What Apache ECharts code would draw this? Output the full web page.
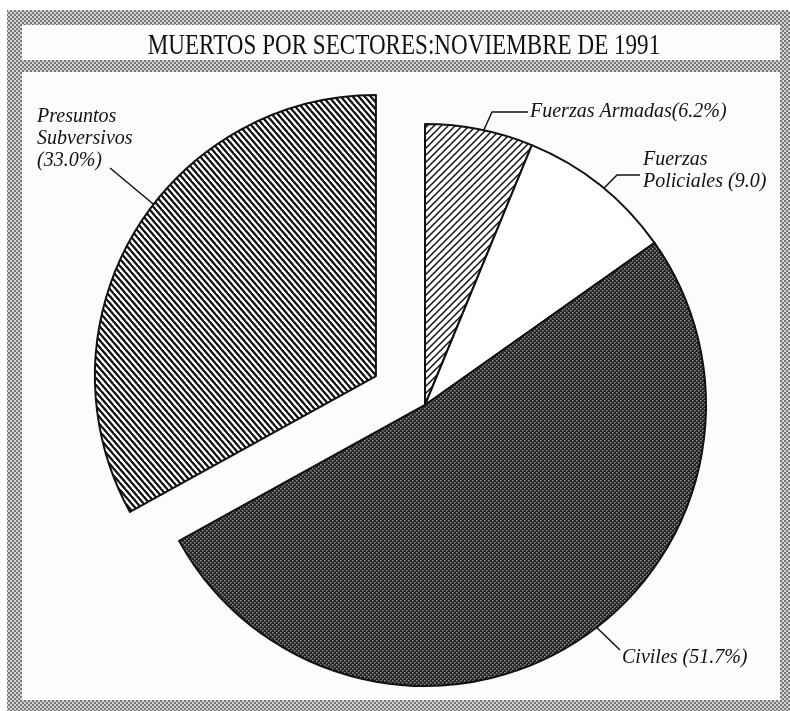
<!DOCTYPE html>
<html><head><meta charset="utf-8">
<script src="https://cdn.jsdelivr.net/npm/echarts@6/dist/echarts.min.js"></script>
<style>html,body{margin:0;padding:0;background:#fff}#c{width:790px;height:711px}</style>
</head><body><div id="c"></div>
<script>
// ---- data ----
const categories = ['Fuerzas Armadas', 'Fuerzas Policiales', 'Civiles', 'Presuntos Subversivos'];
const values = [6.2, 9.0, 51.7, 33.0];
const labelTexts = ['Fuerzas Armadas(6.2%)', 'Fuerzas\nPoliciales (9.0)', 'Civiles (51.7%)', 'Presuntos\nSubversivos\n(33.0%)'];
const titleText = 'MUERTOS POR SECTORES:NOVIEMBRE DE 1991';
const explodedIndex = 3;

// ---- layout / style config ----
const CENTER = [425, 405], RADIUS = 281, OFFSET = 57;
const LABEL_LAYOUT = [
  {x: 530, y: 112, frac: 0.54, line: [[492, 112], [528, 112]]},
  {x: 643, y: 171, frac: 0.53, line: [[617, 175], [640, 175]]},
  {x: 622, y: 658, frac: 0.47, line: [[620, 650]]},
  {x: 37,  y: 139, frac: 0.56, line: [[110, 168]]}
];

function tile(w, h, draw) {
  const c = document.createElement('canvas');
  c.width = w; c.height = h;
  const g = c.getContext('2d');
  draw(g, w, h);
  return {image: c, repeat: 'repeat'};
}
function hatch(w, h, dir, lw) {
  return tile(w, h, (g) => {
    g.fillStyle = '#fff'; g.fillRect(0, 0, w, h);
    g.strokeStyle = '#111'; g.lineWidth = lw;
    for (let k = -2; k <= 2; k++) {
      g.beginPath();
      if (dir > 0) { g.moveTo(k * w - w, 2 * h); g.lineTo(k * w + 2 * w, -h); }
      else { g.moveTo(k * w - w, -h); g.lineTo(k * w + 2 * w, 2 * h); }
      g.stroke();
    }
  });
}
function dots(bg, fg, size) {
  return tile(4, 4, (g) => {
    g.fillStyle = bg; g.fillRect(0, 0, 4, 4);
    g.fillStyle = fg;
    g.fillRect(0, 0, size, size);
    g.fillRect(2, 2, size, size);
  });
}
const fills = [hatch(7, 7, 1, 1.5), '#ffffff', dots('#262626', '#8c8c8c', 1.5), hatch(6, 7, -1, 2.3)];
const framePattern = dots('#d4d4d4', '#777777', 2);

const total = values.reduce((a, b) => a + b, 0);
function cumBefore(i) { let c = 0; for (let k = 0; k < i; k++) c += values[k]; return c; }
// centre of the exploded slice: moved outwards along its middle angle
const midExpl = (cumBefore(explodedIndex) + values[explodedIndex] / 2) / total * 2 * Math.PI;
const CENTER2 = [CENTER[0] + OFFSET * Math.sin(midExpl), CENTER[1] - OFFSET * Math.cos(midExpl)];
function anchorFor(i) {
  const th = (cumBefore(i) + LABEL_LAYOUT[i].frac * values[i]) / total * 2 * Math.PI;
  const c = i === explodedIndex ? CENTER2 : CENTER;
  return [c[0] + RADIUS * Math.sin(th), c[1] - RADIUS * Math.cos(th)];
}

const labelBase = {
  show: true, position: 'outside',
  formatter: (p) => labelTexts[p.dataIndex],
  fontFamily: 'Liberation Serif', fontStyle: 'italic', fontSize: 20, lineHeight: 22, color: '#111'
};
const labelLayoutFn = (params) => {
  const i = params.dataIndex, L = LABEL_LAYOUT[i];
  return {x: L.x, y: L.y, align: 'left', verticalAlign: 'middle',
          labelLinePoints: [anchorFor(i)].concat(L.line)};
};
const hidden = {itemStyle: {color: 'rgba(0,0,0,0)', borderWidth: 0}, label: {show: false}, labelLine: {show: false}};

function pieSeries(center, showIdx) {
  return {
    type: 'pie',
    center: center,
    radius: RADIUS,
    startAngle: 90,
    clockwise: true,
    avoidLabelOverlap: false,
    silent: true,
    emphasis: {disabled: true},
    itemStyle: {borderColor: '#111', borderWidth: 2},
    label: labelBase,
    labelLine: {show: true, smooth: false, lineStyle: {color: '#111', width: 1.5}},
    labelLayout: labelLayoutFn,
    data: categories.map((n, i) => showIdx(i)
      ? {name: n, value: values[i], itemStyle: {color: fills[i]}}
      : Object.assign({name: n, value: values[i]}, hidden))
  };
}

const chart = echarts.init(document.getElementById('c'), null, {renderer: 'canvas'});
chart.setOption({
  animation: false,
  backgroundColor: '#ffffff',
  graphic: [
    {type: 'rect', z: -10, silent: true, shape: {x: 7, y: 10, width: 783, height: 701}, style: {fill: framePattern}},
    {type: 'rect', z: -9, silent: true, shape: {x: 22, y: 25, width: 758, height: 35}, style: {fill: '#fdfdfd'}},
    {type: 'rect', z: -9, silent: true, shape: {x: 22, y: 72, width: 758, height: 628}, style: {fill: '#fcfcfc'}},
    {type: 'text', z: 5, silent: true, x: 404, y: 46, scaleX: 0.77, scaleY: 1,
     style: {text: titleText, fill: '#111', font: '30px "Liberation Serif"', textAlign: 'center', textVerticalAlign: 'middle'}}
  ],
  series: [
    pieSeries(CENTER, (i) => i !== explodedIndex),
    pieSeries(CENTER2, (i) => i === explodedIndex)
  ]
});
</script></body></html>
